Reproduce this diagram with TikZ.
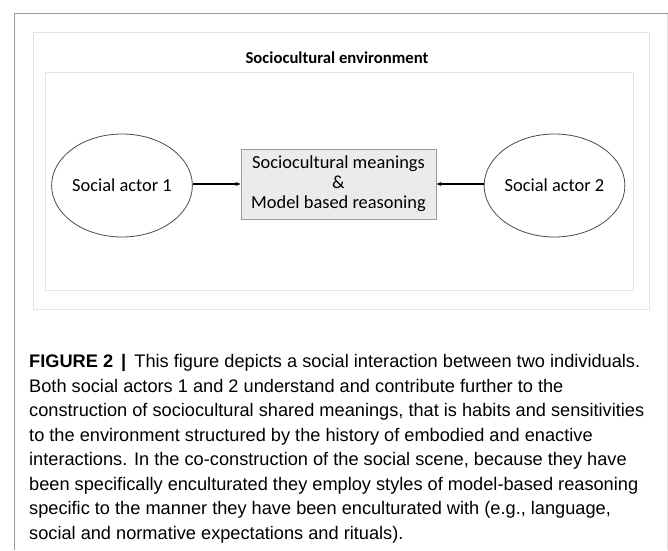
\documentclass[tikz,border=0pt]{standalone}
\usepackage{fontspec}
\setmainfont{Liberation Sans}
\newfontfamily\diagfont{Carlito}
\usetikzlibrary{arrows.meta,shapes.geometric}
\definecolor{framegray}{HTML}{9A9A9A}
\definecolor{frameright}{HTML}{E0E0E0}
\definecolor{boxline}{HTML}{E4E4E4}
\definecolor{midfill}{HTML}{EBEBEB}
\definecolor{midline}{HTML}{9C9C9C}
\definecolor{actorline}{HTML}{4A4A4A}
\tikzset{
  actor/.style={ellipse, draw=actorline, line width=0.8pt, minimum width=110pt, minimum height=103pt, inner sep=0pt, font=\diagfont\fontsize{18.4}{20}\selectfont},
  midbox/.style={rectangle, draw=midline, fill=midfill, line width=0.9pt, minimum width=195pt, minimum height=70pt, align=center, inner sep=0pt, font=\diagfont\fontsize{18.4}{20}\selectfont},
  link/.style={-{Stealth[length=5pt,width=4pt]}, line width=1.3pt, black},
  capline/.style={anchor=base west, inner sep=0pt, font=\fontsize{18.2}{20}\selectfont}
}
\begin{document}
\begin{tikzpicture}[x=1pt,y=-1pt]
\useasboundingbox (0,0) rectangle (668,550);
\fill[white] (0,0) rectangle (668,550);
% outer frame
\draw[frameright, line width=0.8pt] (667,13) -- (667,550);
\draw[framegray, line width=1pt] (14,550) -- (14,13) -- (668,13);
% light boxes
\draw[boxline, line width=1pt] (33,32) rectangle (649,309);
\draw[boxline, line width=1pt] (45,72) rectangle (633,290);
\node[font=\diagfont\bfseries\fontsize{16.7}{20}\selectfont] (title) at (337,58) {Sociocultural environment};
% diagram
\node[actor] (a1) at (122,185.5) {Social actor 1};
\node[actor] (a2) at (554.5,185.5) {Social actor 2};
\node[midbox] (mid) at (338.5,184) {Sociocultural meanings\\ \&\\ Model based reasoning};
\draw[link] (a1.east |- mid.west) -- (mid.west);
\draw[link] (a2.west |- mid.east) -- (mid.east);
% caption
\node[capline] (c1) at (29,367.5) {\textbf{FIGURE 2 \,|\,} This figure depicts a social interaction between two individuals.};
\node[capline] (c2) at (29,392) {Both social actors 1 and 2 understand and contribute further to the};
\node[capline] (c3) at (29,416.5) {construction of sociocultural shared meanings, that is habits and sensitivities};
\node[capline] (c4) at (29,441) {to the environment structured by the history of embodied and enactive};
\node[capline] (c5) at (29,465.5) {interactions. In the co-construction of the social scene, because they have};
\node[capline] (c6) at (29,490) {been specifically enculturated they employ styles of model-based reasoning};
\node[capline] (c7) at (29,514.5) {specific to the manner they have been enculturated with (e.g., language,};
\node[capline] (c8) at (29,539) {social and normative expectations and rituals).};
\end{tikzpicture}
\end{document}
